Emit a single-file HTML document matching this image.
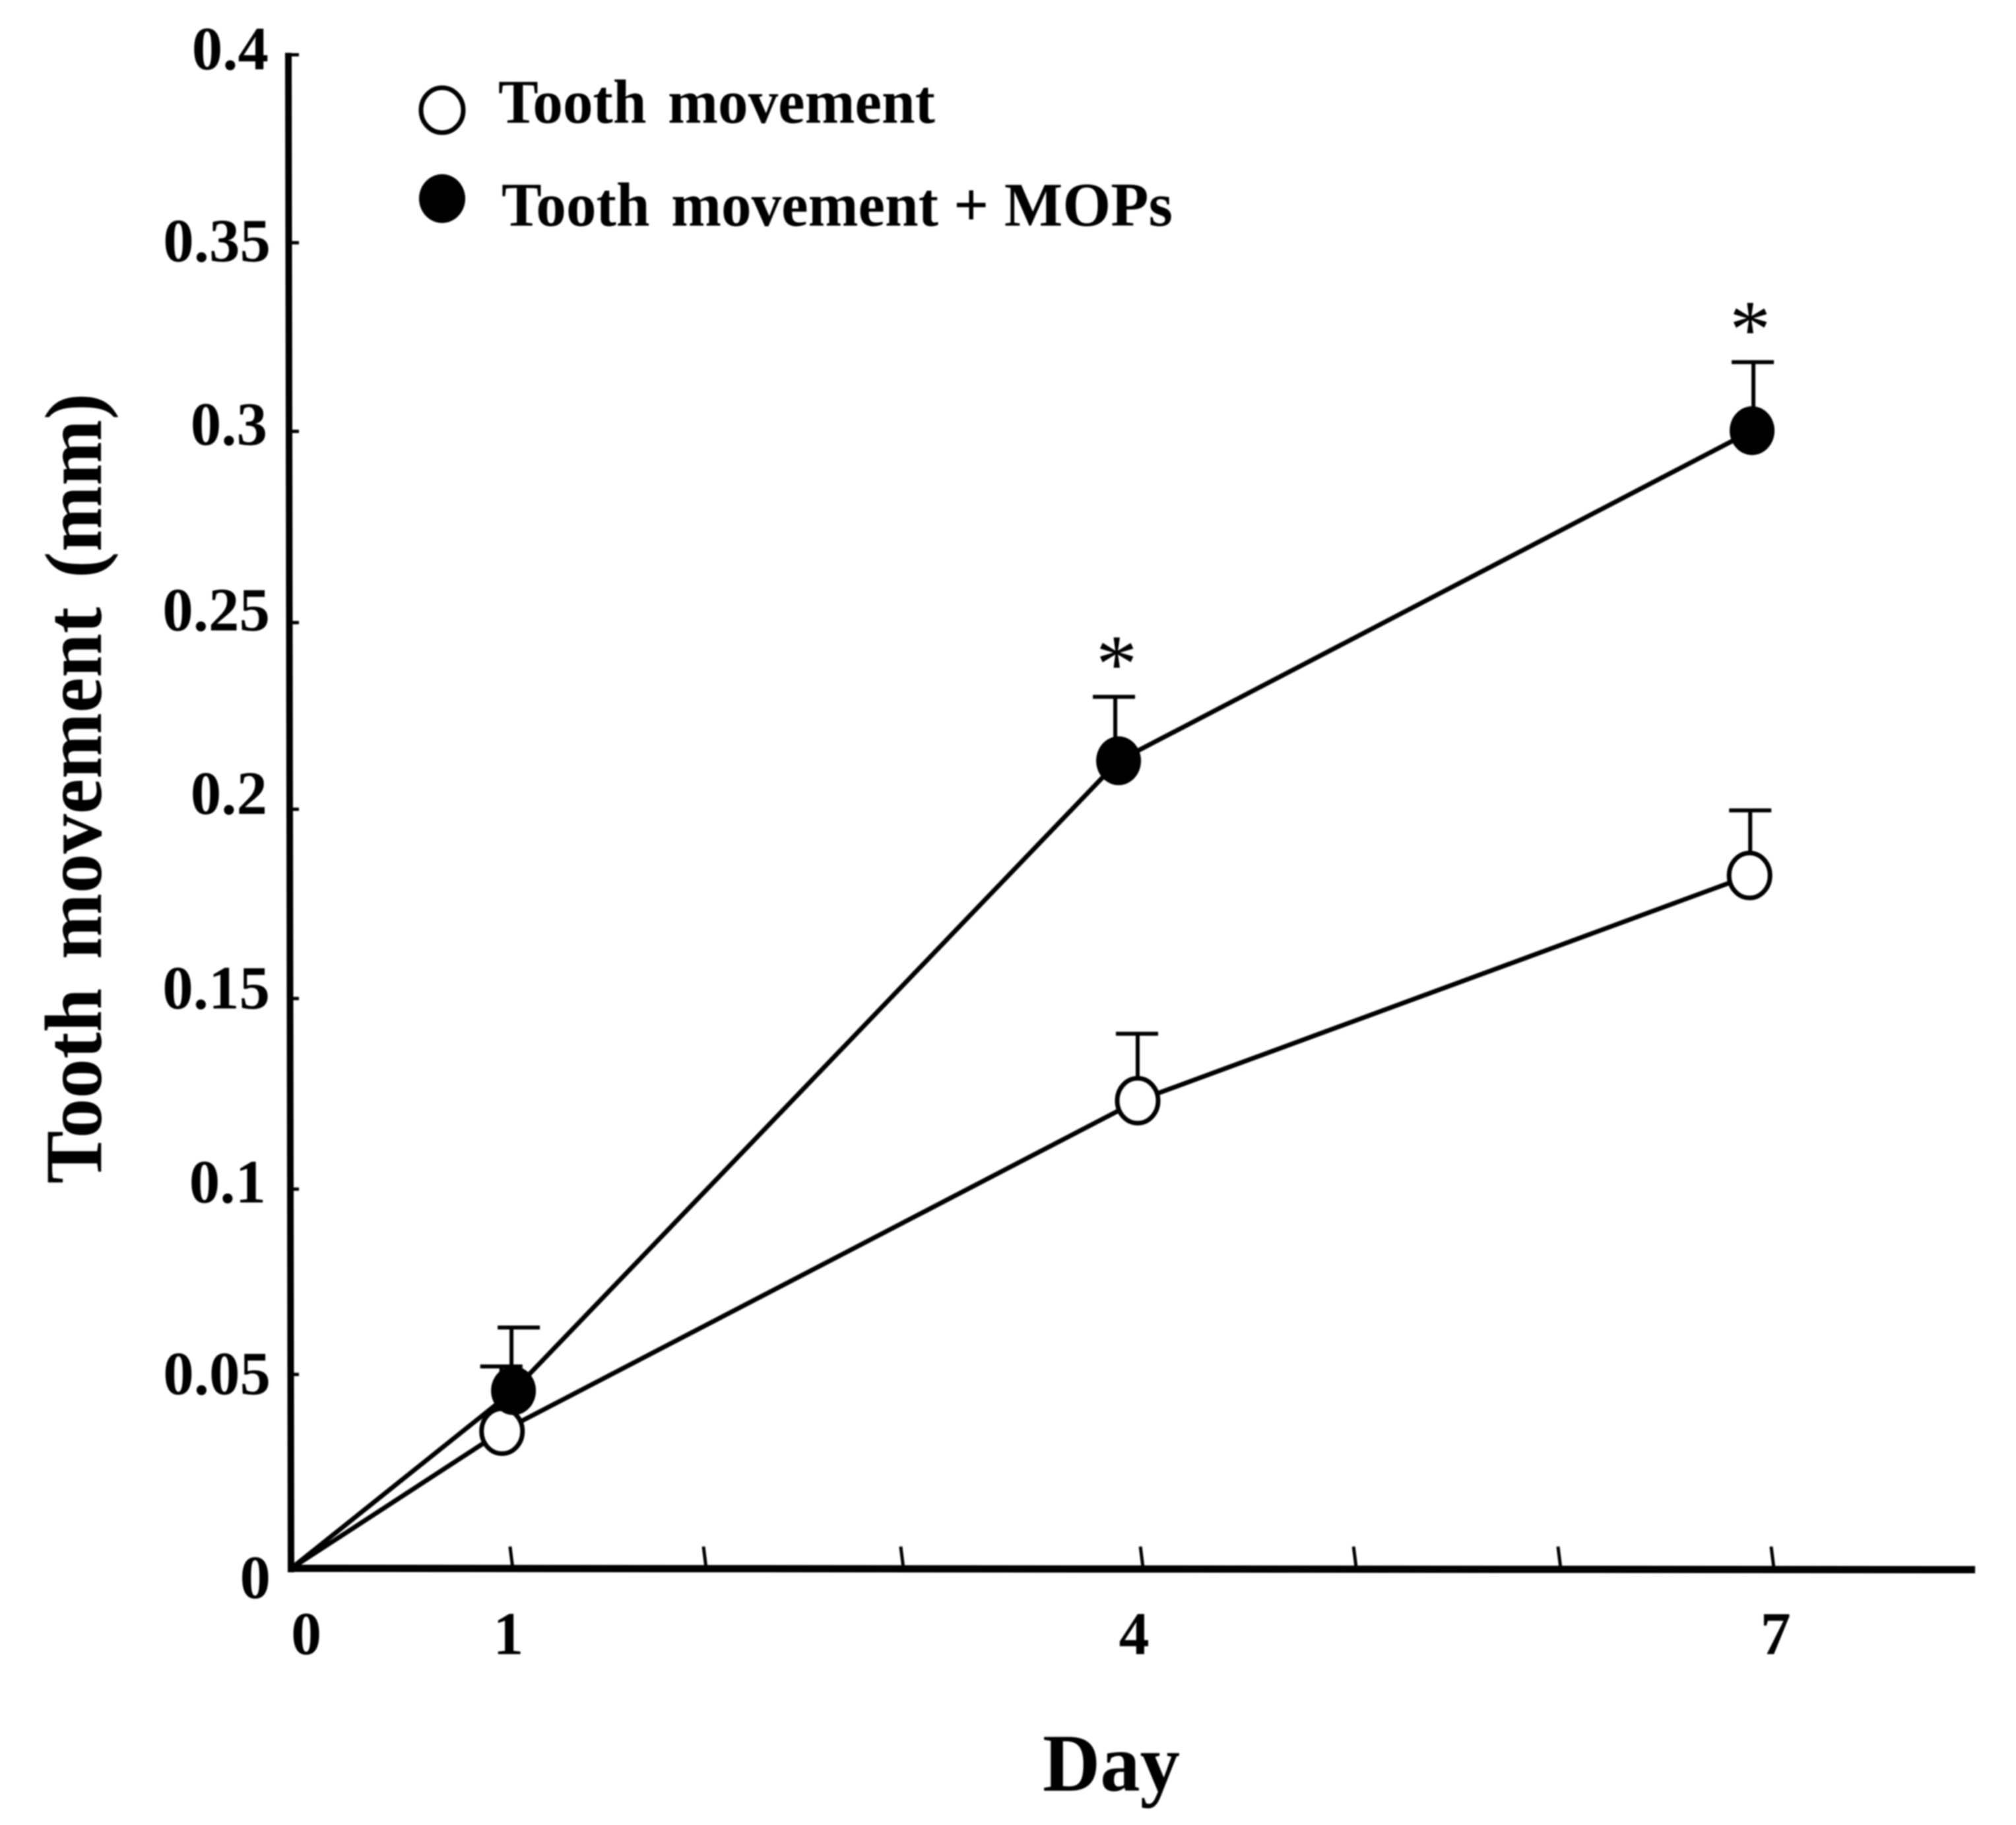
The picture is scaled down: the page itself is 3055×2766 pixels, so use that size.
<!DOCTYPE html>
<html lang="en">
<head>
<meta charset="utf-8">
<title>Tooth movement chart</title>
<style>
html,body{margin:0;padding:0;background:#fff;}
svg{display:block;filter:blur(1px);}
text{font-family:"Liberation Serif",serif;font-weight:bold;fill:#000;}
</style>
</head>
<body>
<svg id="chart" xmlns="http://www.w3.org/2000/svg" width="3055" height="2766" viewBox="0 0 3055 2766">
  <rect x="0" y="0" width="3055" height="2766" fill="#fff"/>
  <text transform="translate(153,1794) rotate(-90)" font-size="123" word-spacing="14" textLength="1198" lengthAdjust="spacingAndGlyphs">Tooth movement (mm)</text>
  <text x="1580" y="2714" font-size="124" textLength="208" lengthAdjust="spacingAndGlyphs">Day</text>
  <g>
    <ellipse cx="670" cy="167" rx="32" ry="34" fill="#fff" stroke="#000" stroke-width="7"/>
    <text x="755" y="186" font-size="94" word-spacing="10" textLength="662" lengthAdjust="spacingAndGlyphs">Tooth movement</text>
    <ellipse cx="670" cy="301" rx="35" ry="37" fill="#000"/>
    <text y="342" font-size="94"><tspan x="760" word-spacing="10" textLength="662" lengthAdjust="spacingAndGlyphs">Tooth movement</tspan> <tspan x="1445" textLength="332" lengthAdjust="spacingAndGlyphs">+ MOPs</tspan></text>
  </g>
  <line x1="437" y1="80" x2="441" y2="2383" stroke="#000" stroke-width="10"/>
  <line x1="441" y1="2377" x2="2993" y2="2379" stroke="#000" stroke-width="11"/>
  <g id="axes"></g>
  <g id="marks"></g>
</svg>
<script>
// Chart data
const days = [1, 4, 7];
const yTickValues = [0.4, 0.35, 0.3, 0.25, 0.2, 0.15, 0.1, 0.05, 0];
const yTickLabels = ['0.4', '0.35', '0.3', '0.25', '0.2', '0.15', '0.1', '0.05', '0'];
const xTickDays = [1.042, 1.954, 2.884, 4.014, 5.019, 5.983, 6.988];
const xTickLabelDays = [0.05, 1, 4, 7];
const xTickLabels = ['0', '1', '4', '7'];
const openDays = [0.998, 3.995, 6.88];
const openMeans = [0.0364, 0.1237, 0.1832];
const openUpper = [0.0535, 0.1414, 0.2004];
const filledDays = [1.052, 3.905, 6.892];
const filledMeans = [0.0471, 0.2135, 0.3007];
const filledUpper = [0.0638, 0.2304, 0.3188];
const significant = [false, true, true];

// Axis functions
function xScale(day) { return 440 + 321.4 * day; }
function yScale(value) { return 2378 - 5737.5 * value; }

const NS = 'http://www.w3.org/2000/svg';
const axes = document.getElementById('axes');
const marks = document.getElementById('marks');

function make(parent, tag, attrs, txt) {
  const el = document.createElementNS(NS, tag);
  for (const k in attrs) el.setAttribute(k, attrs[k]);
  if (txt !== undefined) el.textContent = txt;
  parent.appendChild(el);
  return el;
}

// Small hand-placement offsets of the original artwork (layout, not data)
const yTickShift = [0, -2, -3, 0, -4, -4, -2, -8, 0];
const yLabelDrop = [22, 26, 17, 12, 3, 11, 18, 22, 44];
const yLabelRight = [407, 410, 405, 409, 405, 409, 403, 410, 410];
const xLabelShift = [8, 9, -7, 1];
const openStemShift = [-1, 0, 1];
const openCapShift = [-1, -1, 1];
const filledStemShift = [-3, -5, 2];
const filledCapShift = [8, -7, 1];

yTickValues.forEach(function (v, i) {
  const ty = yScale(v) + yTickShift[i];
  const t = make(axes, 'line', {x1: 440, x2: 453, y1: ty, y2: ty, stroke: '#000', 'stroke-width': 5});
  
  
  const l = make(axes, 'text', {x: yLabelRight[i], y: yScale(v) + yLabelDrop[i], 'font-size': 93, 'text-anchor': 'end'}, yTickLabels[i]);
  
  
});

xTickDays.forEach(function (d) {
  const t = make(axes, 'line', {x1: xScale(d) - 2, x2: xScale(d) + 2, y1: 2344, y2: 2376, stroke: '#000', 'stroke-width': 5});
  
  
});

xTickLabelDays.forEach(function (d, i) {
  const l = make(axes, 'text', {x: xScale(d) + xLabelShift[i], y: 2507, 'font-size': 92, 'text-anchor': 'middle'}, xTickLabels[i]);
  
  
});

function linePoints(ds, ms) {
  const pts = [[xScale(0), yScale(0)]];
  ds.forEach(function (d, i) { pts.push([xScale(d), yScale(ms[i])]); });
  return pts.map(function (p) { return p[0] + ',' + p[1]; }).join(' ');
}

const openLine = make(marks, 'polyline', {points: linePoints(openDays, openMeans), fill: 'none', stroke: '#000', 'stroke-width': 7});



const filledLine = make(marks, 'polyline', {points: linePoints(filledDays, filledMeans), fill: 'none', stroke: '#000', 'stroke-width': 7});



function errorBar(day, mean, upper, stemShift, capShift, name) {
  const sx = xScale(day) + stemShift;
  const stem = make(marks, 'line', {x1: sx, x2: sx, y1: yScale(mean), y2: yScale(upper), stroke: '#000', 'stroke-width': 6});
  
  
  const cx = xScale(day) + capShift;
  const cap = make(marks, 'line', {x1: cx - 32, x2: cx + 32, y1: yScale(upper), y2: yScale(upper), stroke: '#000', 'stroke-width': 6});
  
  
}

days.forEach(function (day, i) {
  errorBar(openDays[i], openMeans[i], openUpper[i], openStemShift[i], openCapShift[i], 'tooth-movement-day-' + day);
  errorBar(filledDays[i], filledMeans[i], filledUpper[i], filledStemShift[i], filledCapShift[i], 'tooth-movement-mops-day-' + day);
});

days.forEach(function (day, i) {
  const m = make(marks, 'ellipse', {cx: xScale(openDays[i]), cy: yScale(openMeans[i]), rx: 31, ry: 34, fill: '#fff', stroke: '#000', 'stroke-width': 7});
  
  
});

days.forEach(function (day, i) {
  const m = make(marks, 'ellipse', {cx: xScale(filledDays[i]), cy: yScale(filledMeans[i]), rx: 34, ry: 37, fill: '#000'});
  
  
});

significant.forEach(function (flag, i) {
  if (!flag) return;
  const s = make(marks, 'text', {x: xScale(filledDays[i]) - 3, y: yScale(filledUpper[i]) - 8, 'font-size': 125, 'text-anchor': 'middle', style: 'font-weight:normal'}, '*');
  
  
});
</script>
</body>
</html>
